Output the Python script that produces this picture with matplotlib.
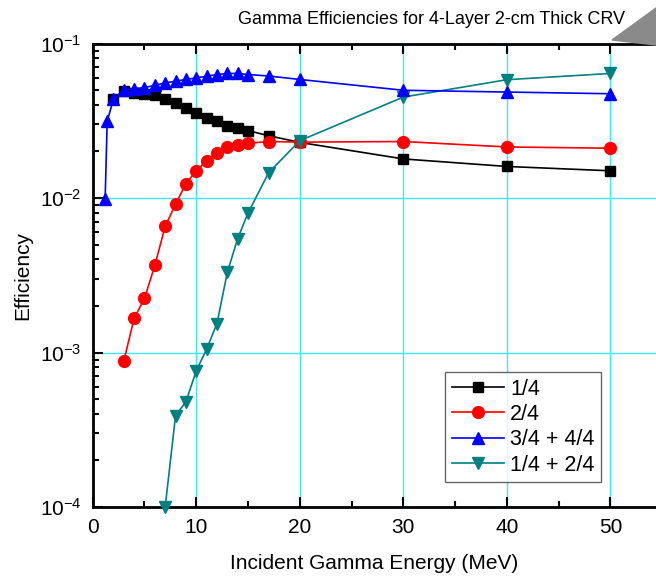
import matplotlib
matplotlib.use("Agg")
import matplotlib.pyplot as plt
from matplotlib.ticker import LogLocator, MultipleLocator, NullFormatter
from matplotlib.patches import Polygon

plt.rcParams['font.family'] = ['Liberation Sans', 'DejaVu Sans']
plt.rcParams['mathtext.fontset'] = 'custom'
plt.rcParams['mathtext.rm'] = 'Liberation Sans'
plt.rcParams['mathtext.it'] = 'Liberation Sans'

title = "Gamma Efficiencies for 4-Layer 2-cm Thick CRV"
xlabel = "Incident Gamma Energy (MeV)"
ylabel = "Efficiency"

e_1of4 = [2, 3, 4, 5, 6, 7, 8, 9, 10, 11, 12, 13, 14, 15, 17, 20, 30, 40, 50]
v_1of4 = [0.044, 0.049, 0.048, 0.047, 0.0467, 0.044, 0.041, 0.038, 0.0356, 0.033,
          0.0313, 0.0294, 0.0284, 0.0273, 0.0253, 0.0229, 0.0179, 0.016, 0.015]

e_2of4 = [3, 4, 5, 6, 7, 8, 9, 10, 11, 12, 13, 14, 15, 17, 20, 30, 40, 50]
v_2of4 = [0.00088, 0.00166, 0.00224, 0.00366, 0.00656, 0.0091, 0.0124, 0.015, 0.0174,
          0.0197, 0.0213, 0.022, 0.0226, 0.0232, 0.0230, 0.0232, 0.0214, 0.021]

e_34 = [1.2, 1.4, 2, 3, 4, 5, 6, 7, 8, 9, 10, 11, 12, 13, 14, 15, 17, 20, 30, 40, 50]
v_34 = [0.0098, 0.0314, 0.0435, 0.0502, 0.051, 0.0518, 0.0536, 0.0556, 0.057, 0.0585,
        0.0599, 0.0614, 0.063, 0.064, 0.064, 0.063, 0.0616, 0.0585, 0.0498, 0.0485, 0.0473]

e_12 = [7, 8, 9, 10, 11, 12, 13, 14, 15, 17, 20, 30, 40, 50]
v_12 = [0.0001, 0.00039, 0.00048, 0.00076, 0.00105, 0.00154, 0.0033, 0.00546, 0.008,
        0.0146, 0.0235, 0.045, 0.0583, 0.064]

fig = plt.figure(figsize=(6.56, 5.76), dpi=100)
ax = fig.add_axes([92.7/656, 1-507/576, 563.3/656, (507-43.5)/576])

ax.plot(e_1of4, v_1of4, color='black', marker='s', ms=7.5, lw=1.2, label='1/4', clip_on=False, zorder=3)
ax.plot(e_2of4, v_2of4, color='red', marker='o', ms=8.5, lw=1.2, label='2/4', clip_on=False, zorder=3)
ax.plot(e_34, v_34, color='blue', marker='^', ms=9, lw=1.2, label='3/4 + 4/4', clip_on=False, zorder=4)
ax.plot(e_12, v_12, color='#008080', marker='v', ms=9, lw=1.2, label='1/4 + 2/4', clip_on=False, zorder=3)

ax.set_yscale('log')
ax.set_ylim(1e-4, 1e-1)
ax.set_xlim(0, 54.4)
ax.xaxis.set_major_locator(MultipleLocator(10))
ax.xaxis.set_minor_locator(MultipleLocator(5))
ax.yaxis.set_minor_locator(LogLocator(base=10, subs=range(2, 10), numticks=10))
ax.yaxis.set_minor_formatter(NullFormatter())
ax.set_yticks([1e-4, 1e-3, 1e-2, 1e-1])
ax.set_yticklabels([r'$10^{-4}$', r'$10^{-3}$', r'$10^{-2}$', r'$10^{-1}$'])

ax.grid(True, which='major', color='#40e8f0', lw=1.0, zorder=0)
ax.set_axisbelow(True)

ax.tick_params(which='both', direction='in', top=True, right=False, labelsize=15, width=1.5)
ax.tick_params(which='major', length=7)
ax.tick_params(which='minor', length=4)
ax.tick_params(axis='x', pad=8)
ax.tick_params(axis='y', pad=8)
for s in ['left', 'bottom', 'top']:
    ax.spines[s].set_linewidth(2)
ax.spines['right'].set_visible(False)

ax.set_xlabel(xlabel, fontsize=15, labelpad=12)
ax.set_ylabel(ylabel, fontsize=15)
ax.yaxis.set_label_coords(-0.108, 0.5)

fig.text(431/656, 1-19.5/576, title, ha='center', va='center', fontsize=13)

leg = ax.legend(loc='lower right', bbox_to_anchor=(0.902, 0.054), fontsize=15.5, frameon=True,
                fancybox=False, edgecolor='#404040', handlelength=2.4, borderpad=0.3,
                labelspacing=0.2, handletextpad=0.3, borderaxespad=0)
leg.get_frame().set_linewidth(1.0)

# decorative grey arrow at top right
fig.patches.append(Polygon([[612/656, 1-40/576], [656/656, 1-8/576], [656/656, 1-45/576]],
                           closed=True, transform=fig.transFigure, color='#8a8a8a', zorder=10))

fig.savefig('out.png', dpi=100)
